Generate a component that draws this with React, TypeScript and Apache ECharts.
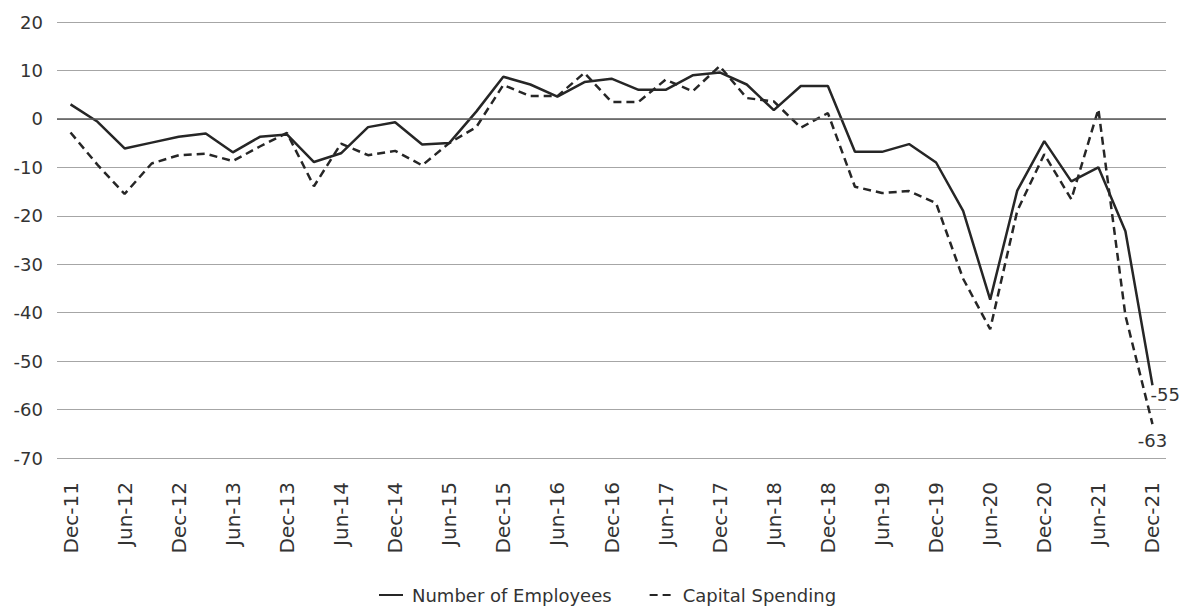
import React, { useEffect, useRef } from "react";
import * as echarts from "echarts";

// Quarterly periods, December 2011 to December 2021
const quarters: string[] = [
  "Dec-11", "Mar-12", "Jun-12", "Sep-12", "Dec-12", "Mar-13", "Jun-13", "Sep-13",
  "Dec-13", "Mar-14", "Jun-14", "Sep-14", "Dec-14", "Mar-15", "Jun-15", "Sep-15",
  "Dec-15", "Mar-16", "Jun-16", "Sep-16", "Dec-16", "Mar-17", "Jun-17", "Sep-17",
  "Dec-17", "Mar-18", "Jun-18", "Sep-18", "Dec-18", "Mar-19", "Jun-19", "Sep-19",
  "Dec-19", "Mar-20", "Jun-20", "Sep-20", "Dec-20", "Mar-21", "Jun-21", "Sep-21",
  "Dec-21",
];

const employees: number[] = [
  3, -0.6, -6.1, -4.9, -3.7, -3.0, -6.9, -3.7, -3.2, -8.9, -7.1, -1.7, -0.7, -5.3,
  -5.0, 1.5, 8.7, 7.1, 4.6, 7.6, 8.3, 6.0, 6.0, 9.0, 9.6, 7.1, 1.8, 6.8, 6.8, -6.8,
  -6.8, -5.2, -9.0, -19.0, -37.3, -14.8, -4.6, -12.9, -10.0, -23.2, -55,
];

const capitalSpending: number[] = [
  -2.8, -9.5, -15.5, -9.2, -7.5, -7.2, -8.7, -5.7, -2.9, -13.9, -5.1, -7.5, -6.6,
  -9.6, -5.0, -1.7, 7.0, 4.7, 4.7, 9.5, 3.5, 3.5, 8.1, 5.7, 10.9, 4.3, 3.6, -1.8,
  1.2, -14.0, -15.3, -14.9, -17.4, -33, -43.4, -19.0, -7.3, -16.6, 2.0, -40.6, -63,
];

const yMin = -70;
const yMax = 20;
const yStep = 10;

const ink = "#262626";
const textColor = "#333333";
const font = "DejaVu Sans";

const endValue = (p: any) => String(Array.isArray(p.value) ? p.value[1] : p.value);

export default function App() {
  const ref = useRef<HTMLDivElement>(null);

  useEffect(() => {
    if (!ref.current) return;
    const chart = echarts.init(ref.current, undefined, { renderer: "svg" });
    chart.setOption({
      animation: false,
      backgroundColor: "#ffffff",
      grid: { left: 57, right: 21, top: 22, bottom: 150, containLabel: false },
      xAxis: {
        type: "category",
        data: quarters,
        boundaryGap: true,
        axisLine: { show: false },
        axisTick: { show: false },
        splitLine: { show: false },
        axisLabel: {
          interval: 1,
          rotate: 90,
          margin: 24,
          color: textColor,
          fontFamily: font,
          fontSize: 20,
        },
      },
      yAxis: {
        type: "value",
        min: yMin,
        max: yMax,
        interval: yStep,
        axisLine: { show: false },
        axisTick: { show: false },
        axisLabel: {
          margin: 14,
          color: textColor,
          fontFamily: font,
          fontSize: 18,
        },
        splitLine: { lineStyle: { color: "#a6a6a6", width: 1 } },
      },
      legend: {
        left: 378,
        top: 586,
        padding: 0,
        itemWidth: 24,
        itemHeight: 10,
        itemGap: 37,
        itemStyle: { opacity: 0 },
        textStyle: {
          color: textColor,
          fontFamily: font,
          fontSize: 18,
          padding: [0, 0, 0, 4],
        },
        data: ["Number of Employees", "Capital Spending"],
      },
      series: [
        {
          name: "Number of Employees",
          type: "line",
          data: employees,
          symbol: "none",
          lineStyle: { color: ink, width: 2.5, type: "solid" },
          itemStyle: { color: ink },
          z: 3,
          endLabel: {
            show: true,
            formatter: endValue,
            distance: 0,
            offset: [-2, 9],
            color: textColor,
            fontFamily: font,
            fontSize: 18,
          },
          markLine: {
            silent: true,
            symbol: "none",
            label: { show: false },
            lineStyle: { color: "#595959", width: 1.5, type: "solid" },
            data: [{ yAxis: 0 }],
          },
        },
        {
          name: "Capital Spending",
          type: "line",
          data: capitalSpending,
          symbol: "none",
          lineStyle: { color: ink, width: 2.5, type: [8, 5] },
          itemStyle: { color: ink },
          z: 3,
          endLabel: {
            show: true,
            formatter: endValue,
            distance: 0,
            align: "center",
            verticalAlign: "top",
            offset: [0, 7],
            color: textColor,
            fontFamily: font,
            fontSize: 18,
          },
        },
      ],
    });
    return () => chart.dispose();
  }, []);

  return (
    <div
      ref={ref}
      style={{ position: "fixed", left: 0, top: 0, width: 1187, height: 608 }}
    />
  );
}
